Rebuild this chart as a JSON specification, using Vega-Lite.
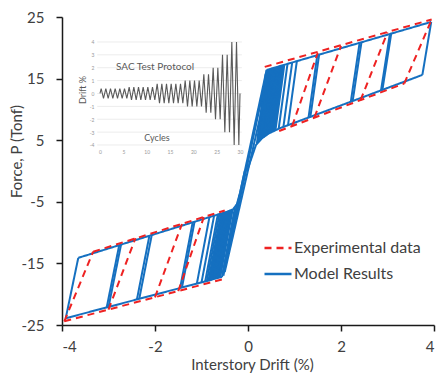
{
  "$schema": "https://vega.github.io/schema/vega-lite/v6.json",
  "width": 372,
  "height": 308,
  "autosize": {"type": "none"},
  "padding": {"left": 62, "top": 17, "right": 10, "bottom": 49},
  "background": "white",
  "config": {
    "view": {"stroke": null},
    "font": "Lato",
    "axis": {"grid": false, "domainColor": "#1a1a1a", "domainWidth": 1.5, "tickColor": "#1a1a1a", "tickWidth": 1.5, "tickSize": 6, "labelFontSize": 15, "labelColor": "#404040", "titleFontSize": 15, "titleFontWeight": "normal", "titleColor": "#404040", "labelFont": "Lato", "titleFont": "Lato"},
    "legend": {"labelFont": "Lato", "labelFontSize": 16, "labelColor": "#404040", "padding": 0}
  },
  "datasets": {
    "protocol": [
      {"c": 0, "d": 0},
      {"c": 0.25, "d": 0.375}, {"c": 0.75, "d": -0.375},
      {"c": 1.25, "d": 0.375}, {"c": 1.75, "d": -0.375},
      {"c": 2.25, "d": 0.375}, {"c": 2.75, "d": -0.375},
      {"c": 3.25, "d": 0.375}, {"c": 3.75, "d": -0.375},
      {"c": 4.25, "d": 0.375}, {"c": 4.75, "d": -0.375},
      {"c": 5.25, "d": 0.375}, {"c": 5.75, "d": -0.375},
      {"c": 6.25, "d": 0.5}, {"c": 6.75, "d": -0.5},
      {"c": 7.25, "d": 0.5}, {"c": 7.75, "d": -0.5},
      {"c": 8.25, "d": 0.5}, {"c": 8.75, "d": -0.5},
      {"c": 9.25, "d": 0.5}, {"c": 9.75, "d": -0.5},
      {"c": 10.25, "d": 0.5}, {"c": 10.75, "d": -0.5},
      {"c": 11.25, "d": 0.5}, {"c": 11.75, "d": -0.5},
      {"c": 12.25, "d": 0.75}, {"c": 12.75, "d": -0.75},
      {"c": 13.25, "d": 0.75}, {"c": 13.75, "d": -0.75},
      {"c": 14.25, "d": 0.75}, {"c": 14.75, "d": -0.75},
      {"c": 15.25, "d": 0.75}, {"c": 15.75, "d": -0.75},
      {"c": 16.25, "d": 0.75}, {"c": 16.75, "d": -0.75},
      {"c": 17.25, "d": 0.75}, {"c": 17.75, "d": -0.75},
      {"c": 18.25, "d": 1}, {"c": 18.75, "d": -1},
      {"c": 19.25, "d": 1}, {"c": 19.75, "d": -1},
      {"c": 20.25, "d": 1}, {"c": 20.75, "d": -1},
      {"c": 21.25, "d": 1}, {"c": 21.75, "d": -1},
      {"c": 22.25, "d": 1.5}, {"c": 22.75, "d": -1.5},
      {"c": 23.25, "d": 1.5}, {"c": 23.75, "d": -1.5},
      {"c": 24.25, "d": 2}, {"c": 24.75, "d": -2},
      {"c": 25.25, "d": 2}, {"c": 25.75, "d": -2},
      {"c": 26.25, "d": 3}, {"c": 26.75, "d": -3},
      {"c": 27.25, "d": 3}, {"c": 27.75, "d": -3},
      {"c": 28.25, "d": 4}, {"c": 28.75, "d": -4},
      {"c": 29.25, "d": 4}, {"c": 29.75, "d": -4},
      {"c": 30, "d": 0}
    ],
    "grid": [{"d": -4}, {"d": -3}, {"d": -2}, {"d": -1}, {"d": 0}, {"d": 1}, {"d": 2}, {"d": 3}, {"d": 4}],
    "notes": [
      {"c": 11.8, "d": 2.05, "t": "SAC Test Protocol"}
    ],
    "notes2": [
      {"c": 12.2, "d": -3.45, "t": "Cycles"}
    ],
    "notes3": [
      {"c": -3.6, "d": 0.27, "t": "Drift %"}
    ],
    "model": [
      {"g": "ld", "x": -0.56, "y": -17.2}, {"g": "ld", "x": 0.40, "y": 16.4},
      {"g": "ld2", "x": -0.53, "y": -17.0}, {"g": "ld2", "x": 0.43, "y": 16.5},
      {"g": "ld3", "x": -0.50, "y": -16.4}, {"g": "ld3", "x": 0.45, "y": 15.0},
      {"g": "up", "x": 0.40, "y": 16.4}, {"g": "up", "x": 3.94, "y": 24.2},
      {"g": "lp", "x": 3.75, "y": 15.6}, {"g": "lp", "x": 0.67, "y": 6.9}, {"g": "lp", "x": 0.45, "y": 6.1}, {"g": "lp", "x": 0.3, "y": 5.3}, {"g": "lp", "x": 0.17, "y": 4.2}, {"g": "lp", "x": 0.08, "y": 2.2}, {"g": "lp", "x": -0.02, "y": 0},
      {"g": "ln", "x": -3.92, "y": -23.9}, {"g": "ln", "x": -0.56, "y": -17.2},
      {"g": "un", "x": -3.65, "y": -14.1}, {"g": "un", "x": -0.45, "y": -6.6}, {"g": "un", "x": -0.32, "y": -6.2}, {"g": "un", "x": -0.24, "y": -5.4}, {"g": "un", "x": -0.17, "y": -3.5}, {"g": "un", "x": -0.07, "y": 0},
      {"g": "p1", "x": 0.19, "y": 4.4}, {"g": "p1", "x": 0.38, "y": 15.75},
      {"g": "q1", "x": 0.215, "y": 4.58}, {"g": "q1", "x": 0.405, "y": 16.41},
      {"g": "p2", "x": 0.24, "y": 4.8}, {"g": "p2", "x": 0.43, "y": 16.5},
      {"g": "q2", "x": 0.265, "y": 5.0}, {"g": "q2", "x": 0.455, "y": 16.52},
      {"g": "p3", "x": 0.29, "y": 5.2}, {"g": "p3", "x": 0.48, "y": 16.6},
      {"g": "q3", "x": 0.315, "y": 5.38}, {"g": "q3", "x": 0.505, "y": 16.63},
      {"g": "p4", "x": 0.34, "y": 5.5}, {"g": "p4", "x": 0.53, "y": 16.7},
      {"g": "q4", "x": 0.365, "y": 5.65}, {"g": "q4", "x": 0.555, "y": 16.74},
      {"g": "p5", "x": 0.39, "y": 5.8}, {"g": "p5", "x": 0.58, "y": 16.8},
      {"g": "q5", "x": 0.415, "y": 5.91}, {"g": "q5", "x": 0.605, "y": 16.85},
      {"g": "p6", "x": 0.44, "y": 6.05}, {"g": "p6", "x": 0.63, "y": 16.9},
      {"g": "q6", "x": 0.465, "y": 6.15}, {"g": "q6", "x": 0.655, "y": 16.96},
      {"g": "p7", "x": 0.49, "y": 6.25}, {"g": "p7", "x": 0.68, "y": 17.0},
      {"g": "q7", "x": 0.515, "y": 6.34}, {"g": "q7", "x": 0.705, "y": 17.07},
      {"g": "p8", "x": 0.54, "y": 6.45}, {"g": "p8", "x": 0.73, "y": 17.1},
      {"g": "q8", "x": 0.565, "y": 6.52}, {"g": "q8", "x": 0.755, "y": 17.18},
      {"g": "p9", "x": 0.59, "y": 6.6}, {"g": "p9", "x": 0.78, "y": 17.2},
      {"g": "p10", "x": 0.66, "y": 6.87}, {"g": "p10", "x": 0.85, "y": 17.4},
      {"g": "p11", "x": 0.76, "y": 7.1}, {"g": "p11", "x": 0.95, "y": 17.6},
      {"g": "p12", "x": 0.86, "y": 7.4}, {"g": "p12", "x": 1.05, "y": 17.8},
      {"g": "p13", "x": 1.34, "y": 8.7}, {"g": "p13", "x": 1.53, "y": 18.9},
      {"g": "p14", "x": 1.30, "y": 8.6}, {"g": "p14", "x": 1.49, "y": 18.8},
      {"g": "p15", "x": 2.25, "y": 11.3}, {"g": "p15", "x": 2.44, "y": 20.9},
      {"g": "p16", "x": 2.21, "y": 11.2}, {"g": "p16", "x": 2.40, "y": 20.8},
      {"g": "p17", "x": 2.89, "y": 13.15}, {"g": "p17", "x": 3.08, "y": 22.3},
      {"g": "p18", "x": 2.86, "y": 13.05}, {"g": "p18", "x": 3.05, "y": 22.2},
      {"g": "p19", "x": 3.75, "y": 15.6}, {"g": "p19", "x": 3.94, "y": 24.2},
      {"g": "n1", "x": -0.45, "y": -13.3}, {"g": "n1", "x": -0.18, "y": -4.0},
      {"g": "n2", "x": -0.5, "y": -15.05}, {"g": "n2", "x": -0.23, "y": -5.2},
      {"g": "n3", "x": -0.55, "y": -16.8}, {"g": "n3", "x": -0.28, "y": -5.9},
      {"g": "n4", "x": -0.6, "y": -17.3}, {"g": "n4", "x": -0.33, "y": -6.25},
      {"g": "m4", "x": -0.625, "y": -17.33}, {"g": "m4", "x": -0.355, "y": -6.35},
      {"g": "n5", "x": -0.65, "y": -17.4}, {"g": "n5", "x": -0.38, "y": -6.45},
      {"g": "m5", "x": -0.675, "y": -17.43}, {"g": "m5", "x": -0.405, "y": -6.5},
      {"g": "n6", "x": -0.7, "y": -17.5}, {"g": "n6", "x": -0.43, "y": -6.55},
      {"g": "m6", "x": -0.725, "y": -17.53}, {"g": "m6", "x": -0.455, "y": -6.6},
      {"g": "n7", "x": -0.75, "y": -17.6}, {"g": "n7", "x": -0.48, "y": -6.67},
      {"g": "m7", "x": -0.775, "y": -17.63}, {"g": "m7", "x": -0.505, "y": -6.73},
      {"g": "n8", "x": -0.8, "y": -17.7}, {"g": "n8", "x": -0.53, "y": -6.8},
      {"g": "m8", "x": -0.825, "y": -17.73}, {"g": "m8", "x": -0.555, "y": -6.85},
      {"g": "n9", "x": -0.85, "y": -17.8}, {"g": "n9", "x": -0.58, "y": -6.9},
      {"g": "m9", "x": -0.885, "y": -17.85}, {"g": "m9", "x": -0.615, "y": -6.99},
      {"g": "n10", "x": -0.92, "y": -17.9}, {"g": "n10", "x": -0.65, "y": -7.1},
      {"g": "n11", "x": -1.0, "y": -18.1}, {"g": "n11", "x": -0.73, "y": -7.3},
      {"g": "n12", "x": -1.1, "y": -18.3}, {"g": "n12", "x": -0.83, "y": -7.5},
      {"g": "n13", "x": -1.42, "y": -18.9}, {"g": "n13", "x": -1.15, "y": -8.25},
      {"g": "n14", "x": -1.46, "y": -19.0}, {"g": "n14", "x": -1.19, "y": -8.35},
      {"g": "n15", "x": -2.39, "y": -20.9}, {"g": "n15", "x": -2.12, "y": -10.5},
      {"g": "n16", "x": -2.34, "y": -20.8}, {"g": "n16", "x": -2.07, "y": -10.4},
      {"g": "n17", "x": -3.04, "y": -22.2}, {"g": "n17", "x": -2.77, "y": -12.05},
      {"g": "n18", "x": -3.00, "y": -22.1}, {"g": "n18", "x": -2.73, "y": -11.95},
      {"g": "n19", "x": -3.92, "y": -23.9}, {"g": "n19", "x": -3.65, "y": -14.1}
    ],
    "exp": [
      {"g": "et", "x": 0.36, "y": 16.9}, {"g": "et", "x": 3.95, "y": 24.6},
      {"g": "el", "x": 0.67, "y": 6.5}, {"g": "el", "x": 3.36, "y": 14.2},
      {"g": "d1", "x": 3.36, "y": 14.2}, {"g": "d1", "x": 3.95, "y": 24.6},
      {"g": "d2", "x": 2.42, "y": 11.5}, {"g": "d2", "x": 3.0, "y": 22.5},
      {"g": "d3", "x": 1.43, "y": 8.7}, {"g": "d3", "x": 2.0, "y": 20.3},
      {"g": "d4", "x": 0.95, "y": 7.3}, {"g": "d4", "x": 1.5, "y": 19.2},
      {"g": "eb", "x": -3.95, "y": -24.4}, {"g": "eb", "x": -0.56, "y": -17.6},
      {"g": "eu", "x": -3.33, "y": -13.1}, {"g": "eu", "x": -0.5, "y": -6.4},
      {"g": "c1", "x": -3.95, "y": -24.4}, {"g": "c1", "x": -3.33, "y": -13.1},
      {"g": "c2", "x": -3.0, "y": -22.5}, {"g": "c2", "x": -2.42, "y": -10.9},
      {"g": "c3", "x": -2.0, "y": -20.5}, {"g": "c3", "x": -1.42, "y": -8.6},
      {"g": "c4", "x": -1.5, "y": -19.5}, {"g": "c4", "x": -0.95, "y": -7.5}
    ]
  },
  "layer": [
    {
      "layer": [
        {
          "data": {"name": "grid"},
          "mark": {"type": "rule", "color": "#ececec", "strokeWidth": 1},
          "encoding": {
            "y": {"field": "d", "type": "quantitative", "scale": {"domain": [-17.98, 5.94], "nice": false, "zero": false},
                  "axis": {"orient": "left", "offset": -34, "domain": false, "ticks": false, "labelFontSize": 5, "labelColor": "#999999", "labelPadding": 2, "values": [-4, -3, -2, -1, 0, 1, 2, 3, 4], "labelExpr": "'' + datum.value", "title": null}},
            "x": {"datum": -0.6, "type": "quantitative", "scale": {"domain": [-8.143, 71.57], "nice": false, "zero": false},
                  "axis": {"orient": "bottom", "offset": -178, "domain": false, "ticks": false, "labelFontSize": 5, "labelColor": "#999999", "labelPadding": 2, "values": [0, 5, 10, 15, 20, 25, 30], "title": null}},
            "x2": {"datum": 30.4}
          }
        },
        {
          "data": {"name": "protocol"},
          "mark": {"type": "line", "color": "#5a5a5a", "strokeWidth": 1.1},
          "encoding": {
            "x": {"field": "c", "type": "quantitative", "scale": {"domain": [-8.143, 71.57], "nice": false, "zero": false},
                  "axis": {"orient": "bottom", "offset": -178, "domain": false, "ticks": false, "labelFontSize": 5, "labelColor": "#999999", "labelPadding": 2, "values": [0, 5, 10, 15, 20, 25, 30], "title": null}},
            "y": {"field": "d", "type": "quantitative", "scale": {"domain": [-17.98, 5.94], "nice": false, "zero": false},
                  "axis": {"orient": "left", "offset": -34, "domain": false, "ticks": false, "labelFontSize": 5, "labelColor": "#999999", "labelPadding": 2, "values": [-4, -3, -2, -1, 0, 1, 2, 3, 4], "labelExpr": "'' + datum.value", "title": null}}
          }
        },
        {
          "data": {"name": "notes"},
          "mark": {"type": "text", "fontSize": 10, "color": "#595959", "font": "Lato"},
          "encoding": {
            "x": {"field": "c", "type": "quantitative", "scale": {"domain": [-8.143, 71.57], "nice": false, "zero": false},
                  "axis": {"orient": "bottom", "offset": -178, "domain": false, "ticks": false, "labelFontSize": 5, "labelColor": "#999999", "labelPadding": 2, "values": [0, 5, 10, 15, 20, 25, 30], "title": null}},
            "y": {"field": "d", "type": "quantitative", "scale": {"domain": [-17.98, 5.94], "nice": false, "zero": false},
                  "axis": {"orient": "left", "offset": -34, "domain": false, "ticks": false, "labelFontSize": 5, "labelColor": "#999999", "labelPadding": 2, "values": [-4, -3, -2, -1, 0, 1, 2, 3, 4], "labelExpr": "'' + datum.value", "title": null}},
            "text": {"field": "t"}
          }
        },
        {
          "data": {"name": "notes2"},
          "mark": {"type": "text", "fontSize": 9, "color": "#595959", "font": "Lato"},
          "encoding": {
            "x": {"field": "c", "type": "quantitative", "scale": {"domain": [-8.143, 71.57], "nice": false, "zero": false},
                  "axis": {"orient": "bottom", "offset": -178, "domain": false, "ticks": false, "labelFontSize": 5, "labelColor": "#999999", "labelPadding": 2, "values": [0, 5, 10, 15, 20, 25, 30], "title": null}},
            "y": {"field": "d", "type": "quantitative", "scale": {"domain": [-17.98, 5.94], "nice": false, "zero": false},
                  "axis": {"orient": "left", "offset": -34, "domain": false, "ticks": false, "labelFontSize": 5, "labelColor": "#999999", "labelPadding": 2, "values": [-4, -3, -2, -1, 0, 1, 2, 3, 4], "labelExpr": "'' + datum.value", "title": null}},
            "text": {"field": "t"}
          }
        },
        {
          "data": {"name": "notes3"},
          "mark": {"type": "text", "fontSize": 9, "color": "#595959", "font": "Lato", "angle": 270},
          "encoding": {
            "x": {"field": "c", "type": "quantitative", "scale": {"domain": [-8.143, 71.57], "nice": false, "zero": false},
                  "axis": {"orient": "bottom", "offset": -178, "domain": false, "ticks": false, "labelFontSize": 5, "labelColor": "#999999", "labelPadding": 2, "values": [0, 5, 10, 15, 20, 25, 30], "title": null}},
            "y": {"field": "d", "type": "quantitative", "scale": {"domain": [-17.98, 5.94], "nice": false, "zero": false},
                  "axis": {"orient": "left", "offset": -34, "domain": false, "ticks": false, "labelFontSize": 5, "labelColor": "#999999", "labelPadding": 2, "values": [-4, -3, -2, -1, 0, 1, 2, 3, 4], "labelExpr": "'' + datum.value", "title": null}},
            "text": {"field": "t"}
          }
        }
      ]
    },
    {
      "layer": [
        {
          "data": {"name": "model"},
          "mark": {"type": "line", "strokeWidth": 2},
          "encoding": {
            "x": {"field": "x", "type": "quantitative", "scale": {"domain": [-4, 4], "nice": false, "zero": false},
                  "axis": {"orient": "bottom", "values": [-4, -2, 0, 2, 4], "labelExpr": "'' + datum.value", "labelPadding": 8, "title": "Interstory Drift (%)", "titleX": 190, "titleY": 39, "titleBaseline": "middle", "titleAlign": "center"}},
            "y": {"field": "y", "type": "quantitative", "scale": {"domain": [-25, 25], "nice": false, "zero": false},
                  "axis": {"orient": "left", "values": [-25, -15, -5, 5, 15, 25], "labelExpr": "'' + datum.value", "labelPadding": 12, "title": "Force, P (Tonf)", "titleX": -46, "titleY": 134, "titleBaseline": "middle", "titleAlign": "center", "titleAngle": 270}},
            "detail": {"field": "g"},
            "color": {"datum": "Model Results", "scale": {"domain": ["Experimental data", "Model Results"], "range": ["#ee2222", "#1570c0"]},
                      "legend": {"title": null, "orient": "none", "legendX": 201, "legendY": 216, "symbolType": "stroke", "symbolSize": 729, "symbolStrokeWidth": 2.5, "rowPadding": 3, "labelOffset": 1}},
            "strokeDash": {"datum": "Model Results", "scale": {"domain": ["Experimental data", "Model Results"], "range": [[7, 5], [1, 0]]}}
          }
        },
        {
          "data": {"name": "exp"},
          "mark": {"type": "line", "strokeWidth": 2},
          "encoding": {
            "x": {"field": "x", "type": "quantitative", "scale": {"domain": [-4, 4], "nice": false, "zero": false},
                  "axis": {"orient": "bottom", "values": [-4, -2, 0, 2, 4], "labelExpr": "'' + datum.value", "labelPadding": 8, "title": "Interstory Drift (%)", "titleX": 190, "titleY": 39, "titleBaseline": "middle", "titleAlign": "center"}},
            "y": {"field": "y", "type": "quantitative", "scale": {"domain": [-25, 25], "nice": false, "zero": false},
                  "axis": {"orient": "left", "values": [-25, -15, -5, 5, 15, 25], "labelExpr": "'' + datum.value", "labelPadding": 12, "title": "Force, P (Tonf)", "titleX": -46, "titleY": 134, "titleBaseline": "middle", "titleAlign": "center", "titleAngle": 270}},
            "detail": {"field": "g"},
            "color": {"datum": "Experimental data"},
            "strokeDash": {"datum": "Experimental data"}
          }
        }
      ]
    }
  ],
  "resolve": {"scale": {"x": "independent", "y": "independent"}}
}
